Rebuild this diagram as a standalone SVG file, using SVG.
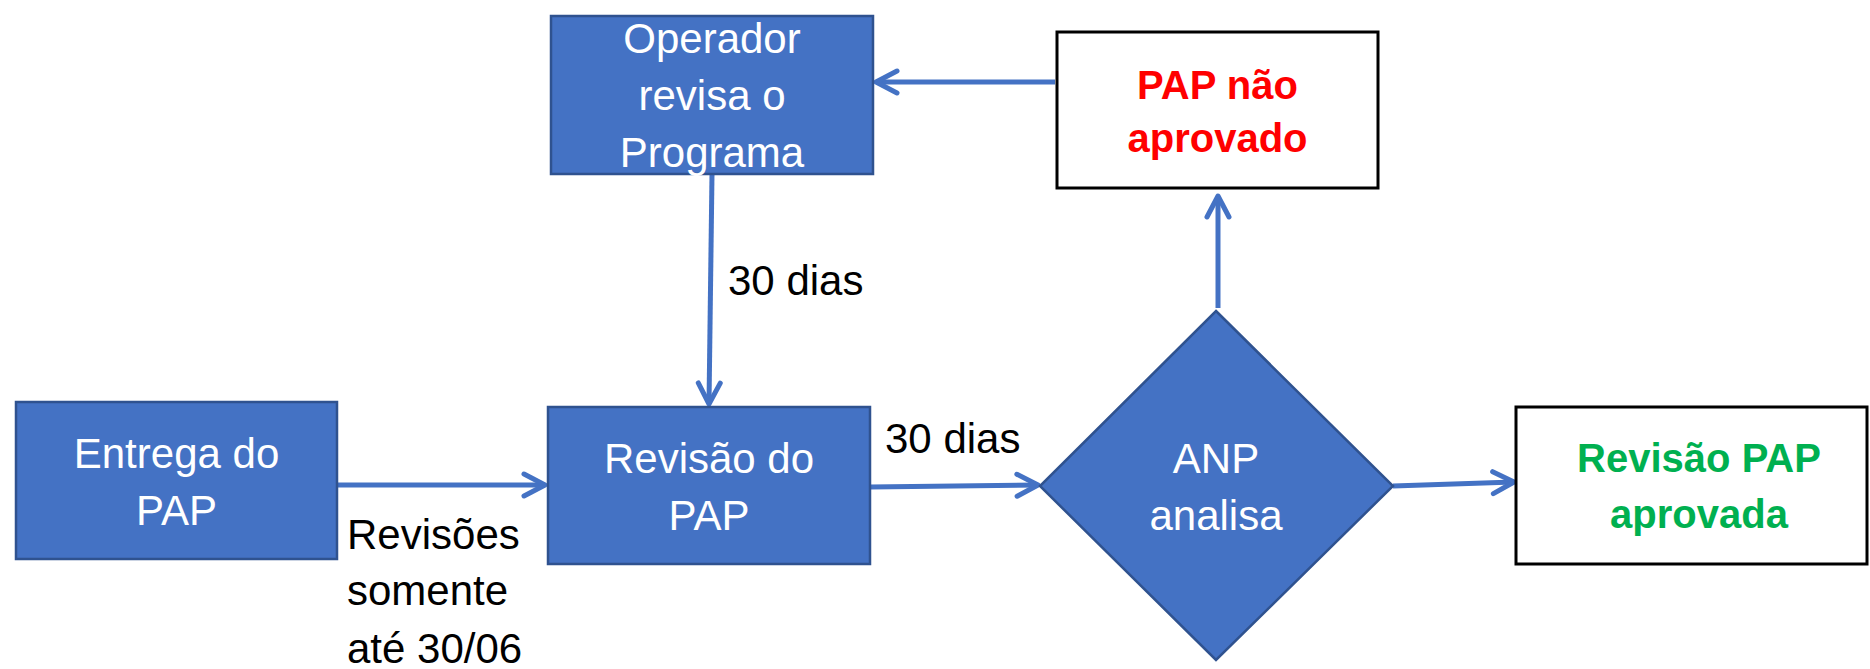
<svg xmlns="http://www.w3.org/2000/svg" width="1870" height="669" viewBox="0 0 1870 669">
<defs>
<style>
.box{fill:#4472C4;stroke:#2F528F;stroke-width:2.5}
.wbox{fill:#FFFFFF;stroke:#000000;stroke-width:3}
.wt{font-family:"Liberation Sans",Arial,sans-serif;font-size:42px;fill:#FFFFFF;text-anchor:middle}
.bt{font-family:"Liberation Sans",Arial,sans-serif;font-size:42px;fill:#000000}
.red{font-family:"Liberation Sans",Arial,sans-serif;font-size:40px;font-weight:bold;fill:#FF0000;text-anchor:middle}
.grn{font-family:"Liberation Sans",Arial,sans-serif;font-size:40px;font-weight:bold;fill:#00B050;text-anchor:middle}
.conn{stroke:#4472C4;stroke-width:5;fill:none}
</style>
<marker id="arr" markerUnits="userSpaceOnUse" markerWidth="40" markerHeight="40" viewBox="-30 -20 40 40" refX="0" refY="0" orient="auto">
<path d="M-21,-11 L0,0 L-21,11" fill="none" stroke="#4472C4" stroke-width="5" stroke-linecap="round" stroke-linejoin="round"/>
</marker>
</defs>
<g id="connectors">
<line class="conn" x1="337" y1="485" x2="545" y2="485" marker-end="url(#arr)"/>
<line class="conn" x1="870" y1="487" x2="1038" y2="485" marker-end="url(#arr)"/>
<line class="conn" x1="1393" y1="486" x2="1514" y2="482" marker-end="url(#arr)"/>
<line class="conn" x1="1218" y1="308" x2="1218" y2="196" marker-end="url(#arr)"/>
<line class="conn" x1="1055" y1="82" x2="876" y2="82" marker-end="url(#arr)"/>
<line class="conn" x1="712" y1="174" x2="709" y2="404" marker-end="url(#arr)"/>
</g>
<g id="entrega">
<rect class="box" x="16" y="402" width="321" height="157"/>
<text class="wt" x="176.5" y="468">Entrega do</text>
<text class="wt" x="176.5" y="525">PAP</text>
</g>
<g id="revisao">
<rect class="box" x="548" y="407" width="322" height="157"/>
<text class="wt" x="709" y="473">Revisão do</text>
<text class="wt" x="709" y="530">PAP</text>
</g>
<g id="operador">
<rect class="box" x="551" y="16" width="322" height="158"/>
<text class="wt" x="712" y="53">Operador</text>
<text class="wt" x="712" y="110">revisa o</text>
<text class="wt" x="712" y="167">Programa</text>
</g>
<g id="nao-aprovado">
<rect class="wbox" x="1057" y="32" width="321" height="156"/>
<text class="red" x="1217.5" y="99">PAP não</text>
<text class="red" x="1217.5" y="152">aprovado</text>
</g>
<g id="anp">
<polygon class="box" points="1216,311 1393,486 1216,660 1040,486"/>
<text class="wt" x="1216" y="473">ANP</text>
<text class="wt" x="1216" y="530">analisa</text>
</g>
<g id="aprovada">
<rect class="wbox" x="1516" y="407" width="351" height="157"/>
<text class="grn" x="1699" y="472">Revisão PAP</text>
<text class="grn" x="1699" y="528">aprovada</text>
</g>
<g id="labels">
<text class="bt" x="347" y="549">Revisões</text>
<text class="bt" x="347" y="605">somente</text>
<text class="bt" x="347" y="663">até 30/06</text>
<text class="bt" x="728" y="295">30 dias</text>
<text class="bt" x="885" y="453">30 dias</text>
</g>
</svg>
